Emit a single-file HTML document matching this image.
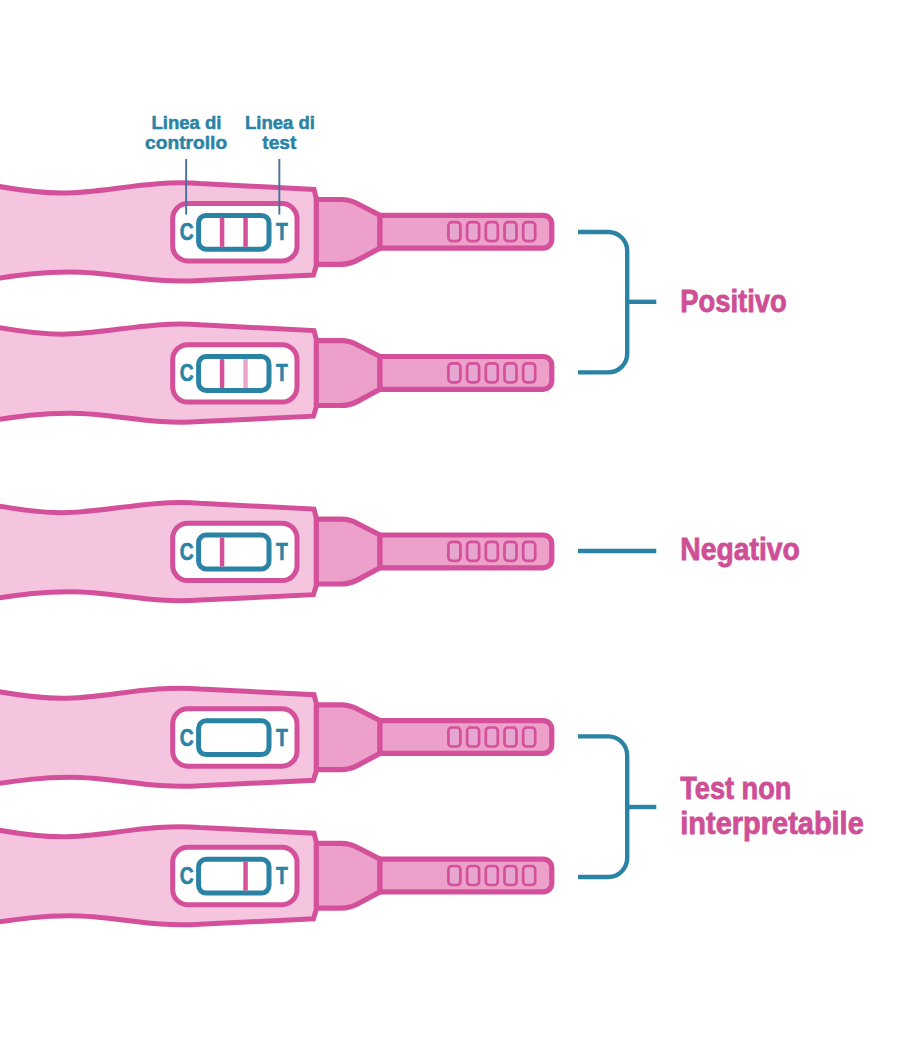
<!DOCTYPE html>
<html><head><meta charset="utf-8">
<style>
html,body{margin:0;padding:0;background:#fff;}
body{width:900px;height:1050px;overflow:hidden;font-family:"Liberation Sans",sans-serif;}
svg{display:block;}
text{font-family:"Liberation Sans",sans-serif;font-weight:bold;}
</style></head><body>
<svg width="900" height="1050" viewBox="0 0 900 1050">
<defs>
<g id="stick">
  <!-- neck -->
  <path d="M316 199.5 L341 199.5 Q350 199.5 358 204 L380 215.3 L380 248.1 L358 259.9 Q350 264.3 341 264.3 L316 264.3 Z" fill="#eda0ca" stroke="#d4509a" stroke-width="5.2" stroke-linejoin="miter"/>
  <!-- stick -->
  <path d="M380 215.3 L543.2 215.3 A8.6 8.6 0 0 1 551.8 223.9 L551.8 239.5 A8.6 8.6 0 0 1 543.2 248.1 L380 248.1 Z" fill="#eda0ca" stroke="#d4509a" stroke-width="5.2" stroke-linejoin="round"/>
  <g fill="#e6a6d0" stroke="#d4509a" stroke-width="2.7">
    <rect x="448.4" y="222.2" width="12" height="19" rx="3.6"/>
    <rect x="467.1" y="222.2" width="12" height="19" rx="3.6"/>
    <rect x="485.8" y="222.2" width="12" height="19" rx="3.6"/>
    <rect x="504.5" y="222.2" width="12" height="19" rx="3.6"/>
    <rect x="523.2" y="222.2" width="12" height="19" rx="3.6"/>
  </g>
  <!-- body -->
  <path d="M-10 184.8 C15 189.5 38 193 62 193 C105 193 150 179.5 200 183.6 L314 189.4 L316.2 198 L316.2 266 L313.4 275 L200 280.4 C150 283.8 115 272 70 272 C40 272 20 275 -10 279.5 Z" fill="#f5c5df" stroke="#d4509a" stroke-width="5" stroke-linejoin="miter"/>
  <!-- window -->
  <rect x="172.7" y="203.5" width="124.3" height="57.4" rx="15" fill="#fff" stroke="#d4509a" stroke-width="5"/>
  <rect x="198.6" y="215.4" width="70.4" height="33.9" rx="7.5" fill="#fff" stroke="#2a83a5" stroke-width="5"/>
  <text x="0" y="0" transform="translate(179.7 240.2) scale(0.84 1)" font-size="23" fill="#2a83a5" stroke="#2a83a5" stroke-width="0.6">C</text>
  <text x="0" y="0" transform="translate(276.1 240.2) scale(0.84 1)" font-size="23" fill="#2a83a5" stroke="#2a83a5" stroke-width="0.6">T</text>
</g>
<rect id="lc" x="219.8" y="217.9" width="4.5" height="28.9" fill="#d4509a"/>
<rect id="lt" x="243.3" y="217.9" width="4.5" height="28.9" fill="#d4509a"/>
<rect id="ltf" x="243.3" y="217.9" width="4.5" height="28.9" fill="#eaa6cd"/>
</defs>

<use href="#stick" y="0"/><use href="#lc"/><use href="#lt"/>
<use href="#stick" y="141.2"/><use href="#lc" y="141.2"/><use href="#ltf" y="141.2"/>
<use href="#stick" y="319.7"/><use href="#lc" y="319.7"/>
<use href="#stick" y="505.3"/>
<use href="#stick" y="643.8"/><use href="#lt" y="643.8"/>

<!-- pointer lines -->
<rect x="185.2" y="159" width="1.9" height="55.6" fill="#47719d"/>
<rect x="278.4" y="159" width="1.9" height="55.6" fill="#47719d"/>

<!-- labels -->
<g fill="#2a83a5" stroke="#2a83a5" stroke-width="0.5" font-size="19" text-anchor="middle">
  <text transform="translate(186.4 128.9) scale(0.975 1)">Linea di</text>
  <text transform="translate(186.1 148.6) scale(1.01 1)">controllo</text>
  <text transform="translate(279.9 128.9) scale(0.975 1)">Linea di</text>
  <text transform="translate(279.3 148.6) scale(1.01 1)">test</text>
</g>

<!-- brackets -->
<g fill="none" stroke="#2a83a5" stroke-width="4.4">
  <path d="M578 232 L608.2 232 A19 19 0 0 1 627.2 251 L627.2 353.4 A19 19 0 0 1 608.2 372.4 L578 372.4"/>
  <path d="M627.2 301.8 L656.3 301.8"/>
  <path d="M578 551 L656.3 551"/>
  <path d="M578 736.4 L608.2 736.4 A19 19 0 0 1 627.2 755.4 L627.2 858 A19 19 0 0 1 608.2 877 L578 877"/>
  <path d="M627.2 807 L656.3 807"/>
</g>

<g fill="#cf4f96" stroke="#cf4f96" stroke-width="0.8" font-size="30.5">
  <text transform="translate(680.3 311.7) scale(0.898 1)">Positivo</text>
  <text transform="translate(680.3 560.4) scale(0.928 1)">Negativo</text>
  <text transform="translate(680.3 798.8) scale(0.89 1)">Test non</text>
  <text transform="translate(680.3 833.9) scale(0.95 1)">interpretabile</text>
</g>
</svg>
</body></html>
